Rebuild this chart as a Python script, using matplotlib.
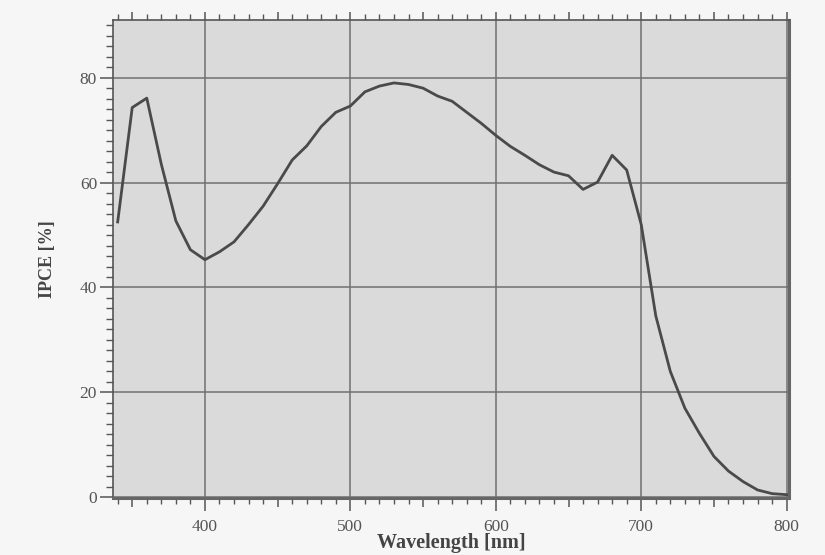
"""
IPCE spectrum: incident photon-to-current efficiency vs wavelength
"""

import matplotlib
matplotlib.use("Agg")
import matplotlib.pyplot as plt
import numpy as np

# wavelength in nm, every 10 nm
wavelength = list(range(340, 801, 10))

# IPCE in %
ipce = [52.5, 74.3, 76.1, 63.5, 52.7, 47.2, 45.3, 46.8, 48.7, 52.0,
        55.5, 59.8, 64.3, 67.0, 70.7, 73.4, 74.6, 77.3, 78.4, 79.0,
        78.7, 78.0, 76.5, 75.5, 73.4, 71.3, 69.0, 66.9, 65.2, 63.4,
        62.0, 61.3, 58.7, 60.1, 65.2, 62.4, 52.0, 34.6, 24.0, 17.0,
        12.2, 7.8, 5.0, 3.0, 1.4, 0.7, 0.5]

x_major = [400, 500, 600, 700, 800]
y_major = [0, 20, 40, 60, 80]

plt.rcParams['font.family'] = ['Liberation Serif', 'DejaVu Serif']

fig = plt.figure(figsize=(8.25, 5.55), dpi=100, facecolor='#f6f6f6')
ax = fig.add_axes([0.137, 0.103, 0.819, 0.861])
ax.set_facecolor('#dadada')

ax.plot(wavelength, ipce, color='#4a4a4a', linewidth=2.0, zorder=3)

ax.set_xlim(336.8, 801.4)
ax.set_ylim(-0.1, 91)

# x ticks: long at 100s, medium at 50s, short every 10
xt = list(range(350, 801, 50))
ax.set_xticks(xt)
ax.set_xticklabels([str(v) if v in x_major else '' for v in xt])
ax.set_xticks(range(340, 801, 10), minor=True)
ax.set_yticks(y_major)
ax.set_yticks(np.arange(0, 91, 2), minor=True)

ax.tick_params(axis='x', which='major', direction='out', length=9, width=1.1,
               color='#555555', labelcolor='#555555', labelsize=12.5, pad=6,
               top=True, bottom=True)
ax.tick_params(axis='x', which='minor', direction='out', length=4.5, width=1.0,
               color='#555555', top=True, bottom=True)
ax.tick_params(axis='y', which='major', direction='out', length=9.5, width=1.1,
               color='#555555', labelcolor='#555555', labelsize=12.5, pad=2,
               left=True, right=False)
ax.tick_params(axis='y', which='minor', direction='out', length=5, width=1.0,
               color='#555555', left=True, right=False)

ax.grid(True, which='major', color='#707070', linewidth=1.1)
ax.set_axisbelow(True)

# the 50s ticks are a bit shorter and carry no grid line
for tick in ax.xaxis.get_major_ticks():
    v = tick.get_loc()
    if v not in x_major:
        tick.gridline.set_visible(False)
        tick.tick1line.set_markersize(6.5)
        tick.tick2line.set_markersize(5.5)
    else:
        tick.tick2line.set_markersize(6)

for side in ['left', 'top']:
    ax.spines[side].set_color('#555555')
    ax.spines[side].set_linewidth(1.2)
for side in ['right', 'bottom']:
    ax.spines[side].set_color('#666666')
    ax.spines[side].set_linewidth(2.2)

ax.set_xlabel('Wavelength [nm]', fontsize=14.5, fontweight='bold', color='#444444',
              labelpad=-1)
ax.set_ylabel('IPCE [%]', fontsize=13, fontweight='bold', color='#444444',
              labelpad=17)

fig.savefig('out.png', dpi=100, facecolor=fig.get_facecolor())
